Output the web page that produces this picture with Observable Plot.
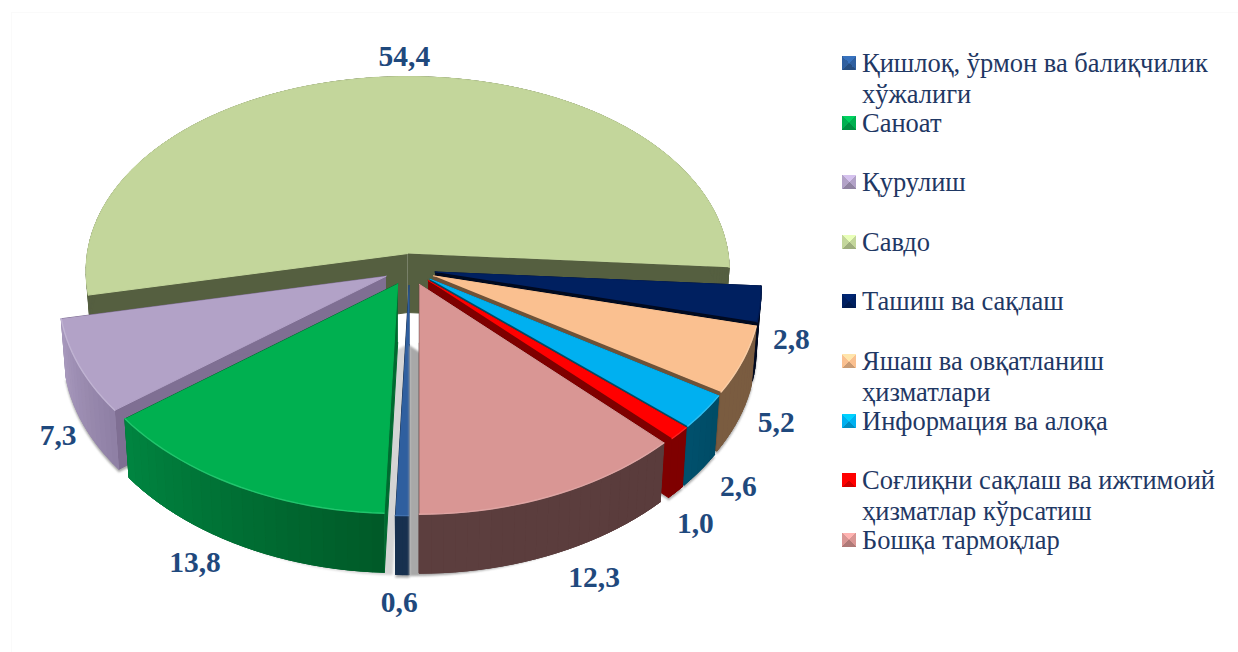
<!DOCTYPE html>
<html><head><meta charset="utf-8">
<script src="https://cdn.jsdelivr.net/npm/d3@7"></script>
<script src="https://cdn.jsdelivr.net/npm/@observablehq/plot@0.6"></script>
<style>
html,body{margin:0;padding:0;background:#fff;}
#wrap{display:flex;width:1238px;height:652px;overflow:hidden;position:relative;}
#wrap::before{content:"";position:absolute;left:11px;top:12px;right:0;bottom:0;border-left:1px solid #fafafa;border-top:1px solid #fafafa;pointer-events:none;}
#chart{width:842px;flex:none;position:relative;}
#chart svg{display:block;}
#legend{margin:0;padding:48px 0 0 0;list-style:none;font-family:"Liberation Serif",serif;font-size:26.5px;line-height:31px;color:#1f3864;position:relative;}
#legend li{height:59.6px;width:390px;display:flex;align-items:flex-start;}
#legend i{flex:none;width:14px;height:14px;margin:8px 6px 0 0;}
#legend span{width:368px;}
</style></head>
<body>
<div id="wrap"><div id="chart"></div><ul id="legend"></ul></div>
<script>
const categories = ["Қишлоқ, ўрмон ва балиқчилик хўжалиги","Саноат","Қурулиш","Савдо","Ташиш ва сақлаш","Яшаш ва овқатланиш ҳизматлари","Информация ва алоқа","Соғлиқни сақлаш ва ижтимоий ҳизматлар кўрсатиш","Бошқа тармоқлар"];
const values = [0.6,13.8,7.3,54.4,2.8,5.2,2.6,1.0,12.3];
const labels = ["0,6","13,8","7,3","54,4","2,8","5,2","2,6","1,0","12,3"];
const topColors  = ["#2f5f9f","#00b050","#b2a2c7","#c3d69b","#002060","#fac090","#00b0f0","#ff0000","#d99694"];
const rimFrom    = ["#17304f","#008440","#a899bd","#555f40","#000a20","#7a5c40","#00506c","#7f0000","#5c3e3e"];
const rimTo      = ["#17304f","#005a28","#8f80a5","#555f40","#000a20","#7a5c40","#004c66","#7f0000","#5a3c3c"];
const wallColors = ["#17304f","#006a30","#7f6f93","#555f40","#000a20","#6e5238","#004c66","#7f0000","#5a3c3c"];
const highlight  = ["#4a7ab8","#2fd07a","#c8bcd8","#c3d69b","#001a50","#fdd5b0","#40c8f8","#ff3030","#e4aeac"];
const drawOrder = [3,4,5,6,7,2,1,0,8];
const shadowShift = [0,8,0,0,0,0,0,0,-10];
const labelShiftX = [-3,-41,-21,17,31,33,34,16,40];
const labelShiftY = [57,48,40,-50,6,33,46,61,53];

const W = 842, H = 652;
const CX = 409, CY = 269, RX = 324, RY = 200, PX = 0.09, PY = 0.116, SPREAD = 0.13, DEPTH = 59, TAPER = 0.985, EX = 26, EY = 16;
const total = d3.sum(values);
const rad = d => d * Math.PI / 180;

let acc = 180;
const slices = values.map((v, i) => {
  const a0 = acc, a1 = acc + v / total * 360; acc = a1;
  const m = rad((a0 + a1) / 2);
  return {i, a0, a1, ax: CX + EX * Math.sin(m), ay: CY - EY * Math.cos(m), m};
});
function rimPoint(s, deg, lower) {
  const u = Math.sin(rad(deg)), v = -Math.cos(rad(deg));
  const w = v - SPREAD * Math.cos(s.m);
  const dx = RX * u / (1 - PX * w), dy = RY * v / (1 - PY * w);
  return lower ? [s.ax + dx * TAPER, s.ay + dy + DEPTH] : [s.ax + dx, s.ay + dy];
}
function arc(s, lower) {
  const pts = [], n = Math.max(2, Math.ceil((s.a1 - s.a0) / 2));
  for (let j = 0; j <= n; j++) pts.push(rimPoint(s, s.a0 + (s.a1 - s.a0) * j / n, lower));
  return pts;
}
const poly = (id, pts, fill) => pts.map(p => ({id, x: p[0], y: p[1], fill}));

const scaleOpts = {
  width: W, height: H, margin: 0,
  x: {domain: [0, W], range: [0, W], axis: null},
  y: {domain: [0, H], range: [0, H], axis: null},
  color: {type: "identity"}
};
const polyMark = (rows, extra = {}) => Plot.line(rows, {x: "x", y: "y", z: "id", fill: "fill", stroke: "fill", strokeWidth: 1, curve: "linear", ...extra});

const marks = [];
for (const i of drawOrder) {
  const s = slices[i];
  const low = arc(s, true), up = arc(s, false);
  const base = [s.ax, s.ay + DEPTH], apex = [s.ax, s.ay];
  const front = Math.cos(s.m) < 0.3;
  if (front && i !== 3) {
    const sh = [base, ...low].map(p => [p[0] + shadowShift[i], p[1] + 2.5]);
    marks.push(polyMark(poly("sh" + i, sh, shadowShift[i] > 0 ? "#d4d4d4" : "#a8a8a8"), {imageFilter: "blur(1.2px)"}));
  }
  const rows = [];
  rows.push(...poly("w0" + i, [apex, up[0], low[0], base], wallColors[i]));
  rows.push(...poly("w1" + i, [apex, up[up.length - 1], low[low.length - 1], base], wallColors[i]));
  const mix = d3.interpolateRgb(rimFrom[i], rimTo[i]);
  rows.push(...poly("rb" + i, [...up, ...low.slice().reverse()], mix(0.5)));
  for (let j = 0; j < up.length - 1; j++) {
    const t = j / Math.max(1, up.length - 2);
    rows.push(...poly(`r${i}_${j}`, [up[j], up[j + 1], low[j + 1], low[j]], mix(1 - t)));
  }
  rows.push(...poly("t" + i, [apex, ...up], topColors[i]));
  marks.push(polyMark(rows));
  marks.push(Plot.line(poly("h" + i, up, highlight[i]), {x: "x", y: "y", z: "id", stroke: "fill", strokeWidth: 1.4, strokeOpacity: 0.7, curve: "linear"}));
}
const labelRows = slices.map(s => {
  const [px, py] = rimPoint(s, (s.a0 + s.a1) / 2, false);
  return {label: labels[s.i], x: px + labelShiftX[s.i], y: py + DEPTH / 2 + labelShiftY[s.i]};
});
marks.push(Plot.text(labelRows, {x: "x", y: "y", text: "label", fill: "#1f497d", fontSize: 29.5, fontWeight: "bold", fontFamily: "Liberation Serif", textAnchor: "middle", lineAnchor: "middle"}));

document.getElementById("chart").append(Plot.plot({...scaleOpts, marks}));

const bevel = c => {
  const base = d3.rgb(c);
  return `conic-gradient(from -45deg, ${base.brighter(0.5)} 0 90deg, ${base} 90deg 180deg, ${base.darker(0.6)} 180deg 270deg, ${base} 270deg 360deg)`;
};
const legend = d3.select("#legend");
categories.forEach((c, i) => {
  const li = legend.append("li");
  li.append("i").style("background", bevel(topColors[i]));
  li.append("span").text(c);
});
</script>
</body></html>
